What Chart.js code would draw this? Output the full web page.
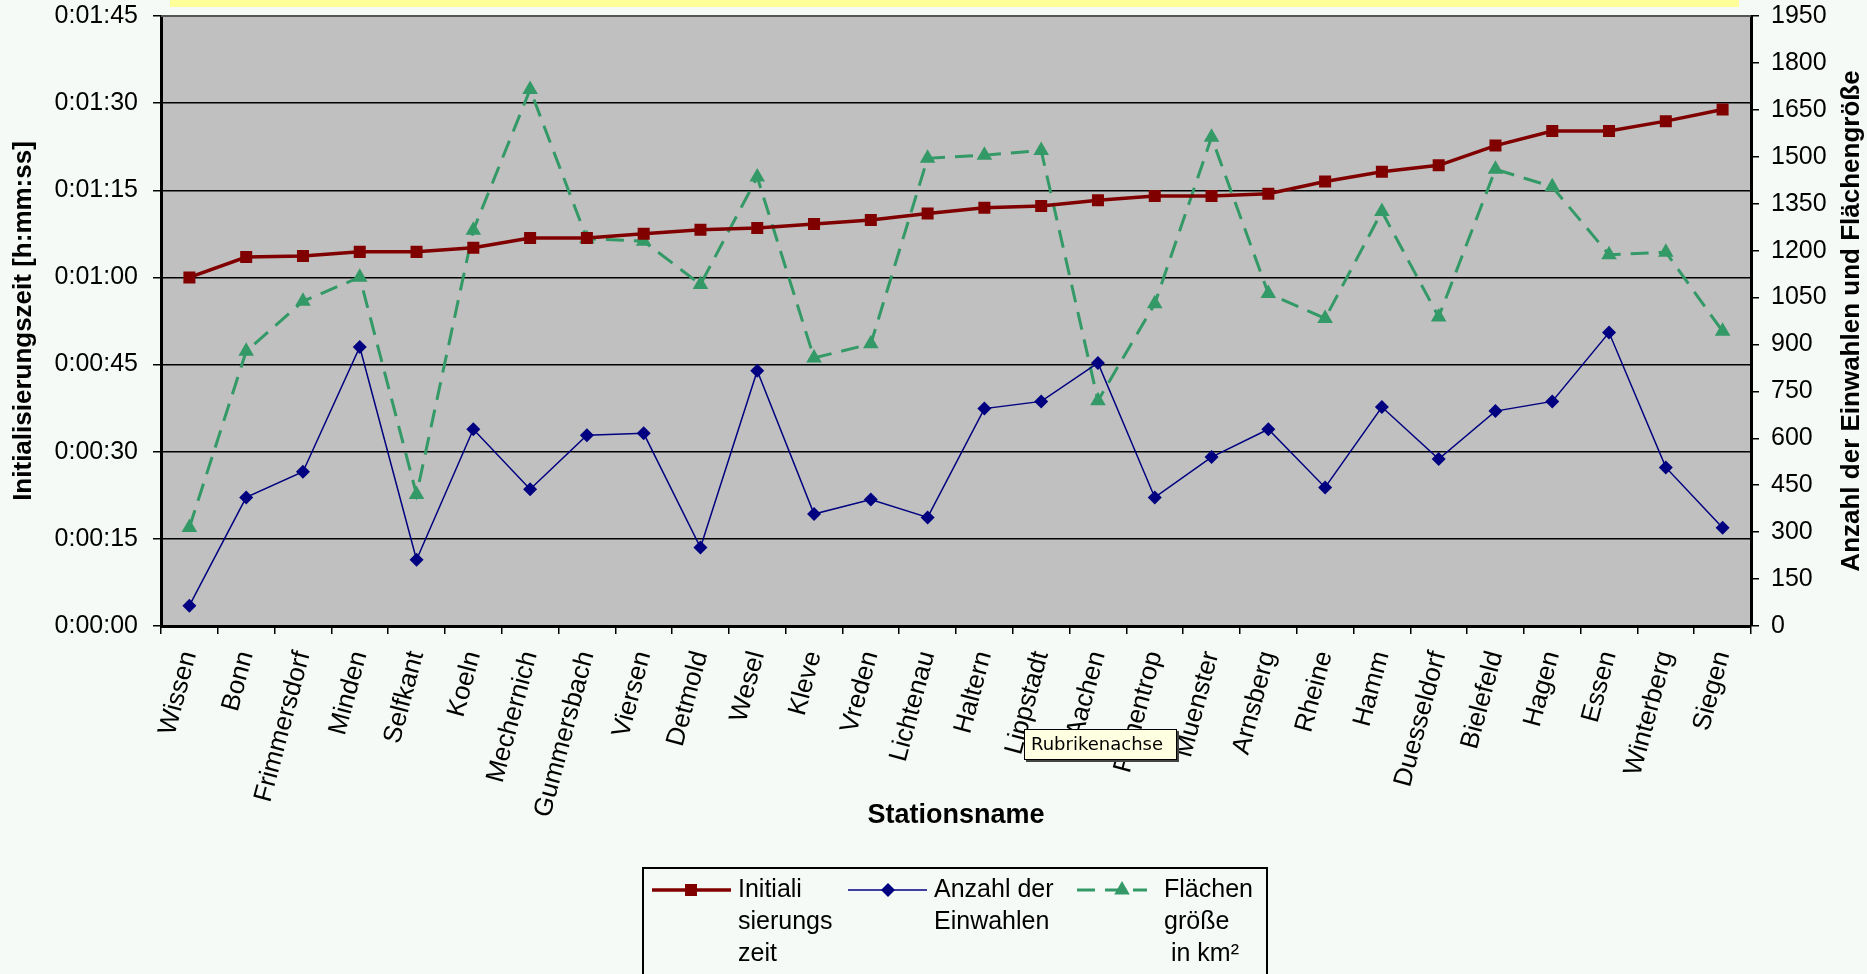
<!DOCTYPE html>
<html lang="de">
<head>
<meta charset="utf-8">
<title>Initialisierungszeit je Station</title>
<script src="https://cdn.jsdelivr.net/npm/chart.js@4.4.0/dist/chart.umd.min.js"></script>
<style>
    html, body { margin: 0; padding: 0; background: #f6faf7; overflow: hidden; }
    #wrap { position: relative; width: 1867px; height: 974px; }
</style>
</head>
<body>
<div id="wrap"><canvas id="chartStationen" width="1867" height="974"></canvas></div>
<script>
// --- Daten ---
const stationen = ['Wissen', 'Bonn', 'Frimmersdorf', 'Minden', 'Selfkant', 'Koeln', 'Mechernich', 'Gummersbach',
    'Viersen', 'Detmold', 'Wesel', 'Kleve', 'Vreden', 'Lichtenau', 'Haltern', 'Lippstadt', 'Aachen', 'Finnentrop',
    'Muenster', 'Arnsberg', 'Rheine', 'Hamm', 'Duesseldorf', 'Bielefeld', 'Hagen', 'Essen', 'Winterberg', 'Siegen'];

// Initialisierungszeit in Sekunden
const initZeit = [60, 63.5, 63.7, 64.4, 64.4, 65.1, 66.8, 66.8, 67.5, 68.2, 68.5, 69.2, 69.9, 71.0,
    72.0, 72.3, 73.3, 74.0, 74.0, 74.4, 76.5, 78.2, 79.3, 82.7, 85.2, 85.2, 86.9, 88.9];

const einwahlen = [65, 411, 493, 892, 212, 629, 437, 610, 616, 251, 816, 358, 404, 347,
    695, 718, 841, 411, 540, 629, 443, 700, 534, 687, 718, 938, 507, 314];

const flaeche = [315, 878, 1038, 1115, 420, 1265, 1715, 1238, 1230, 1092, 1435, 857, 902, 1495,
    1505, 1520, 720, 1030, 1562, 1063, 983, 1325, 988, 1460, 1404, 1187, 1195, 942];

const zeitTicks = { min: 0, max: 105, step: 15 };
const anzahlTicks = { min: 0, max: 1950, step: 150 };

const legendenText = [['Initiali', 'sierungs', 'zeit'], ['Anzahl der', 'Einwahlen'], ['Flächen', 'größe', ' in km²']];
const titelLinks = 'Initialisierungszeit [h:mm:ss]';
const titelRechts = 'Anzahl der Einwahlen und Flächengröße';
const titelUnten = 'Stationsname';

const schrift = '"Liberation Sans", Arial, sans-serif';
Chart.defaults.font.family = schrift;
Chart.defaults.color = '#000';

function zeitFormat(s) {
    const h = Math.floor(s / 3600), m = Math.floor((s % 3600) / 60), sek = Math.round(s % 60);
    return h + ':' + String(m).padStart(2, '0') + ':' + String(sek).padStart(2, '0');
}

function marker(ctx, stil, x, y, r, farbe) {
    ctx.fillStyle = farbe;
    ctx.beginPath();
    if (stil === 'rect') {
        const s = r * Math.SQRT1_2;
        ctx.rect(x - s, y - s, 2 * s, 2 * s);
    } else if (stil === 'rectRot') {
        ctx.moveTo(x, y - r); ctx.lineTo(x + r, y); ctx.lineTo(x, y + r); ctx.lineTo(x - r, y);
    } else {
        ctx.moveTo(x, y - r); ctx.lineTo(x + r * 0.866, y + r / 2); ctx.lineTo(x - r * 0.866, y + r / 2);
    }
    ctx.closePath();
    ctx.fill();
}

// Hintergrund, gelber Streifen oben und graue Zeichenfläche
const hintergrund = {
    id: 'hintergrund',
    beforeDraw(chart) {
        const { ctx, chartArea: a } = chart;
        ctx.save();
        ctx.fillStyle = '#f6faf7';
        ctx.fillRect(0, 0, chart.width, chart.height);
        ctx.fillStyle = '#ffff99';
        ctx.fillRect(170, 0, 1569, 7);
        ctx.fillStyle = '#c0c0c0';
        ctx.fillRect(a.left, a.top, a.right - a.left, a.bottom - a.top);
        ctx.restore();
    },
    afterDraw(chart) {
        const { ctx, chartArea: a } = chart;
        ctx.save();
        // Rahmen oben
        ctx.strokeStyle = '#555';
        ctx.lineWidth = 2;
        ctx.beginPath(); ctx.moveTo(a.left, a.top); ctx.lineTo(a.right, a.top); ctx.stroke();
        // rechter Achsentitel, von unten nach oben gelesen
        ctx.translate(1852, (a.top + a.bottom) / 2);
        ctx.rotate(-Math.PI / 2);
        ctx.font = 'bold 26px ' + schrift;
        ctx.fillStyle = '#000';
        ctx.textAlign = 'center';
        ctx.textBaseline = 'middle';
        ctx.fillText(titelRechts, 0, 0);
        ctx.restore();
    }
};

// Legende unten (mehrzeilige Beschriftung)
const legendeUnten = {
    id: 'legendeUnten',
    afterDraw(chart) {
        const ctx = chart.ctx;
        const pos = [{ x0: 652, x1: 731, mx: 691, tx: 738 }, { x0: 848, x1: 927, mx: 888, tx: 934 }, { x0: 1077, x1: 1147, mx: 1122, tx: 1164 }];
        const y = 890;
        ctx.save();
        ctx.strokeStyle = '#000';
        ctx.lineWidth = 2;
        ctx.strokeRect(643, 868, 624, 140);
        chart.data.datasets.forEach((ds, i) => {
            const p = pos[i];
            ctx.strokeStyle = ds.borderColor;
            ctx.lineWidth = ds.borderWidth;
            ctx.setLineDash(ds.borderDash || []);
            ctx.beginPath(); ctx.moveTo(p.x0, y); ctx.lineTo(p.x1, y); ctx.stroke();
            ctx.setLineDash([]);
            marker(ctx, ds.pointStyle, p.mx, y, ds.pointRadius, ds.backgroundColor);
            ctx.fillStyle = '#000';
            ctx.font = '25px ' + schrift;
            ctx.textAlign = 'left';
            ctx.textBaseline = 'middle';
            legendenText[i].forEach((t, j) => ctx.fillText(t, p.tx, y + j * 32));
        });
        ctx.restore();
    }
};

// Excel-Quickinfo über der Rubrikenachse
const quickinfo = {
    id: 'quickinfo',
    afterDraw(chart) {
        const ctx = chart.ctx;
        ctx.save();
        ctx.fillStyle = '#444';
        ctx.fillRect(1026, 731, 153, 31);
        ctx.fillStyle = '#ffffe1';
        ctx.fillRect(1024, 729, 153, 31);
        ctx.strokeStyle = '#000';
        ctx.lineWidth = 1;
        ctx.strokeRect(1024.5, 729.5, 152, 30);
        ctx.fillStyle = '#000';
        ctx.font = '18px "DejaVu Sans", sans-serif';
        ctx.textBaseline = 'middle';
        ctx.fillText('Rubrikenachse', 1031, 745);
        ctx.restore();
    }
};

// vertikale Achsen: keine zusätzliche Randreservierung oben/unten
function achseBreite(breite) {
    return function(s) {
        s.width = breite;
        s.paddingTop = 0;
        s.paddingBottom = 0;
    };
}

const ctx = document.getElementById('chartStationen').getContext('2d');
const chart = new Chart(ctx, {
    type: 'line',
    data: {
        labels: stationen,
        datasets: [
            {
                label: legendenText[0].join(''), data: initZeit, yAxisID: 'y',
                borderColor: '#800000', backgroundColor: '#800000', borderWidth: 3.5,
                pointStyle: 'rect', pointRadius: 8.5, pointHoverRadius: 8.5, pointBorderWidth: 0
            },
            {
                label: legendenText[1].join(' '), data: einwahlen, yAxisID: 'y1',
                borderColor: '#000080', backgroundColor: '#000080', borderWidth: 1.5,
                pointStyle: 'rectRot', pointRadius: 7, pointHoverRadius: 7, pointBorderWidth: 0
            },
            {
                label: legendenText[2].join(''), data: flaeche, yAxisID: 'y1',
                borderColor: '#339966', backgroundColor: '#339966', borderWidth: 3, borderDash: [18, 10],
                pointStyle: 'triangle', pointRadius: 9, pointHoverRadius: 9, pointBorderWidth: 0
            }
        ]
    },
    options: {
        responsive: false,
        animation: false,
        events: [],
        layout: { padding: { top: 16, bottom: 140, left: 0, right: 0 } },
        elements: { line: { tension: 0 } },
        plugins: { legend: { display: false }, tooltip: { enabled: false } },
        scales: {
            x: {
                offset: true,
                grid: { offset: true, drawOnChartArea: false, color: '#000', tickLength: 8, lineWidth: 1.5 },
                border: { color: '#000', width: 3 },
                ticks: { autoSkip: false, minRotation: 75, maxRotation: 75, font: { size: 26 }, padding: 14 },
                title: { display: true, text: titelUnten, font: { size: 27, weight: 'bold' }, padding: { top: 0, bottom: 2 } },
                afterFit(s) { s.height = 208; }
            },
            y: {
                position: 'left',
                min: zeitTicks.min, max: zeitTicks.max,
                grid: { color: '#000', lineWidth: 1.5, tickLength: 8 },
                border: { color: '#000', width: 3 },
                ticks: { stepSize: zeitTicks.step, font: { size: 25 }, padding: 15, callback: v => zeitFormat(v) },
                title: { display: true, text: titelLinks, font: { size: 26, weight: 'bold' }, padding: { top: 8, bottom: 0 } },
                afterFit: achseBreite(161)
            },
            y1: {
                position: 'right',
                min: anzahlTicks.min, max: anzahlTicks.max,
                grid: { drawOnChartArea: false, color: '#000', lineWidth: 1.5, tickLength: 8 },
                border: { color: '#000', width: 3 },
                ticks: { stepSize: anzahlTicks.step, font: { size: 25 }, padding: 12, callback: v => String(v) },
                afterFit: achseBreite(116)
            }
        }
    },
    plugins: [hintergrund, legendeUnten, quickinfo]
});
</script>
</body>
</html>
